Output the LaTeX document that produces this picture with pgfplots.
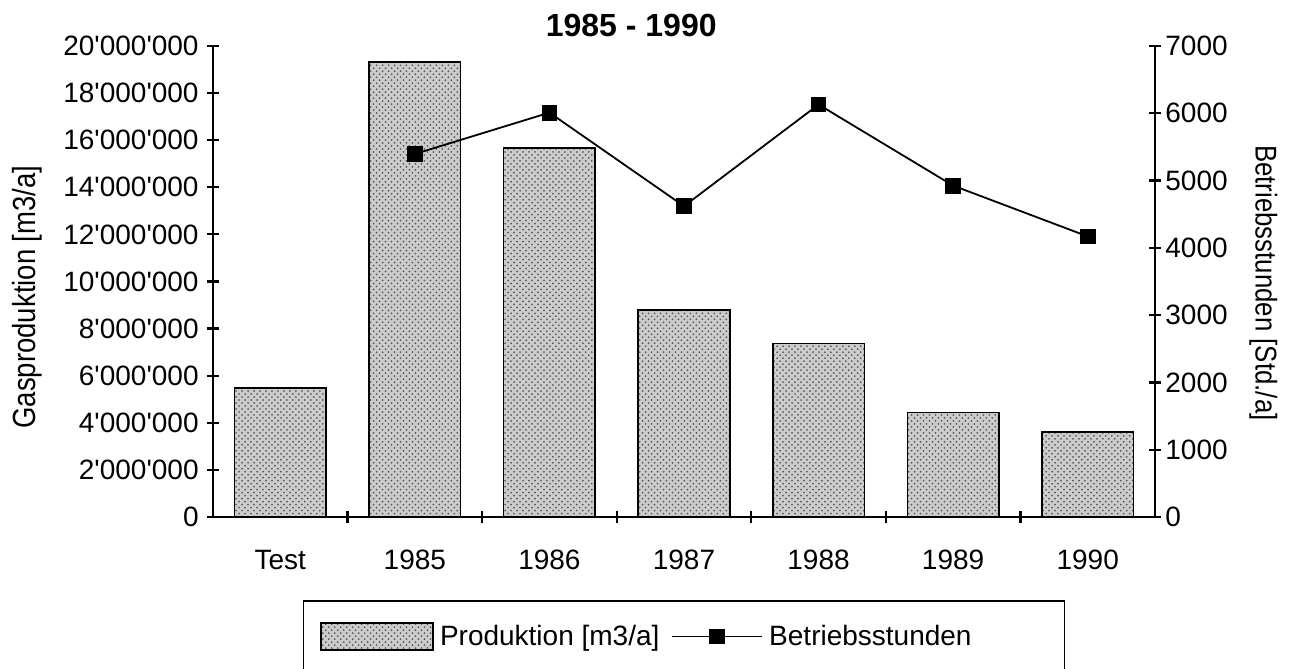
\documentclass[border=0pt]{standalone}
\usepackage{fontspec}
\setmainfont{Liberation Sans}
\newfontfamily\condfont[FakeStretch=0.86]{Liberation Sans}
\usepackage{pgfplots}
\usepackage{pgfplotstable}
\pgfplotsset{compat=1.18}
\usetikzlibrary{patterns}
\newcommand\q{\textquotesingle}

\pgfplotsset{
  barleg/.style={legend image code/.code={\draw[##1] (0bp,-6.75bp) rectangle (56bp,6.75bp);}},
  lineleg/.style={legend image code/.code={\draw[mark repeat=2,mark phase=2,##1] plot coordinates {(0bp,0bp) (22.5bp,0bp) (45bp,0bp)};}},
}

\pgfplotstableread{
x prod
0 5480000
1 19330000
2 15670000
3 8790000
4 7370000
5 4430000
6 3610000
}\prodtable
\pgfplotstableread{
x hours
1 5395
2 6010
3 4620
4 6130
5 4925
6 4170
}\hourtable

\begin{document}
\begin{tikzpicture}
\useasboundingbox (-106.5bp,-76bp) rectangle (540bp,258.5bp);
\pgfplotsset{
  common/.style={
    scale only axis, width=471bp, height=235.5bp,
    at={(0,0)}, anchor=south west,
    xmin=-0.5, xmax=6.5,
    axis line style={line width=1.1bp, black},
    tick style={line width=1.1bp, black},
    font=\fontsize{14bp}{16bp}\selectfont,
    major tick length=6bp, minor tick length=6bp,
  },
}
\begin{axis}[common,
  ymin=0, ymax=20000000,
  axis x line*=bottom, axis y line*=left,
  xtick={0,...,6}, xticklabels={Test,1985,1986,1987,1988,1989,1990},
  minor xtick={0.5,1.5,...,5.5},
  major x tick style={draw=none},
  minor x tick style={yshift=3bp},
  major y tick style={xshift=-3bp},
  xticklabel style={anchor=center, yshift=-15.5bp},
  ytick={0,2000000,...,20000000},
  yticklabels={0,2\q000\q000,4\q000\q000,6\q000\q000,8\q000\q000,10\q000\q000,12\q000\q000,14\q000\q000,16\q000\q000,18\q000\q000,20\q000\q000},
  scaled y ticks=false,
  yticklabel style={anchor=east, inner sep=0pt, xshift=-7bp},
  ylabel={\condfont\fontsize{16bp}{18bp}\selectfont Gasproduktion [m3/a]},
  ylabel style={at={(axis description cs:-0.197,0.467)}, anchor=center},
  title={\fontsize{16bp}{18bp}\selectfont\bfseries 1985 - 1990},
  title style={at={(axis description cs:0.444,1)}, anchor=center, yshift=4.5bp},
  ybar, bar width=0.68,
]
\addplot[ybar, bar shift=0pt, draw=black, line width=0.8bp, fill=black!20,
  postaction={pattern=crosshatch dots, pattern color=black!65}]
  table[x=x, y=prod] {\prodtable};
\end{axis}
\begin{axis}[common,
  ymin=0, ymax=7000,
  axis x line=none, axis y line*=right,
  major y tick style={xshift=3bp},
  ytick={0,1000,...,7000},
  yticklabels={0,1000,2000,3000,4000,5000,6000,7000},
  yticklabel style={anchor=west, inner sep=0pt, xshift=5bp},
  ylabel={\condfont\fontsize{15bp}{17bp}\selectfont Betriebsstunden [Std./a]},
  ylabel style={at={(axis description cs:1.115,0.497)}, anchor=center, rotate=180},
  legend columns=2,
  legend style={at={(axis description cs:0.5,0)}, anchor=north, yshift=-41.5bp,
    draw=black, line width=0.8bp, inner xsep=8.5bp, inner ysep=10bp,
    font=\fontsize{14bp}{16bp}\selectfont,
    /tikz/every odd column/.append style={column sep=1bp},
    /tikz/every even column/.append style={column sep=4bp},
    cells={anchor=west}},
]
\addlegendimage{barleg, draw=black, line width=0.8bp, fill=black!20,
  postaction={pattern=crosshatch dots, pattern color=black!65}}
\addlegendentry{Produktion [m3/a]}
\addplot[black, line width=0.9bp, mark=square*, mark size=3.5bp, lineleg]
  table[x=x, y=hours] {\hourtable};
\addlegendentry{Betriebsstunden\rule{36bp}{0pt}}
\end{axis}
\end{tikzpicture}
\end{document}
